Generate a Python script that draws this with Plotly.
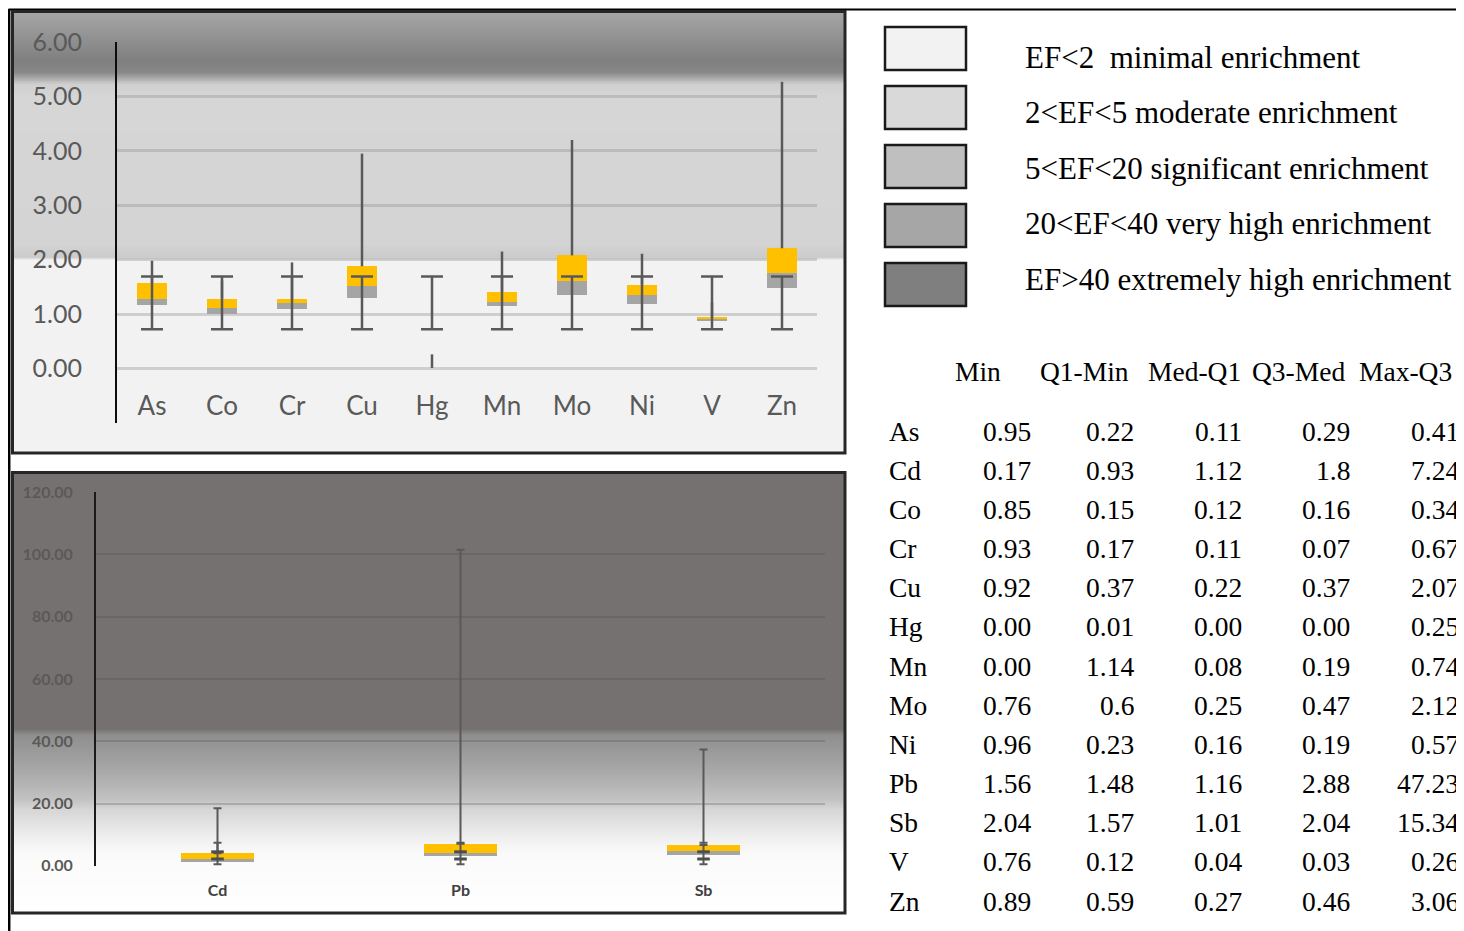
import numpy as np
import plotly.graph_objects as go

# page is shown with an 8 px body margin; the figure is laid out in reference-pixel
# coordinates and shifted by that margin
PAGE_W, PAGE_H = 1464, 931
OFF = 8
W, H = PAGE_W - OFF, PAGE_H - OFF

# ---------------- data (as printed in the table) ----------------
elements   = ["As", "Cd", "Co", "Cr", "Cu", "Hg", "Mn", "Mo", "Ni", "Pb", "Sb", "V", "Zn"]
col_min    = ["0.95", "0.17", "0.85", "0.93", "0.92", "0.00", "0.00", "0.76", "0.96", "1.56", "2.04", "0.76", "0.89"]
col_q1_min = ["0.22", "0.93", "0.15", "0.17", "0.37", "0.01", "1.14", "0.6", "0.23", "1.48", "1.57", "0.12", "0.59"]
col_med_q1 = ["0.11", "1.12", "0.12", "0.11", "0.22", "0.00", "0.08", "0.25", "0.16", "1.16", "1.01", "0.04", "0.27"]
col_q3_med = ["0.29", "1.8", "0.16", "0.07", "0.37", "0.00", "0.19", "0.47", "0.19", "2.88", "2.04", "0.03", "0.46"]
col_max_q3 = ["0.41", "7.24", "0.34", "0.67", "2.07", "0.25", "0.74", "2.12", "0.57", "47.23", "15.34", "0.26", "3.06"]
table_headers = ["Min", "Q1-Min", "Med-Q1", "Q3-Med", "Max-Q3"]
table_columns = [col_min, col_q1_min, col_med_q1, col_q3_med, col_max_q3]

top_elements = ["As", "Co", "Cr", "Cu", "Hg", "Mn", "Mo", "Ni", "V", "Zn"]
bottom_elements = ["Cd", "Pb", "Sb"]

# values
top_fixed_whisker = (0.72, 1.69)          # constant error bar (low cap, high cap)
bottom_whisker_top = [18.5, 101.5, 37.4]  # top of upper whiskers, lower chart
bottom_fixed_whisker = (0.5, 7.4)
bottom_mid_caps = [2.2, 4.5]

top_yticks = [-1, 0, 1, 2, 3, 4, 5, 6]
bottom_yticks = [0, 20, 40, 60, 80, 100, 120]

legend_labels = [
    "EF&lt;2&nbsp; minimal enrichment",
    "2&lt;EF&lt;5 moderate enrichment",
    "5&lt;EF&lt;20 significant enrichment",
    "20&lt;EF&lt;40 very high enrichment",
    "EF&gt;40 extremely high enrichment",
]
legend_colors = ["#f2f2f2", "#d9d9d9", "#bfbfbf", "#a6a6a6", "#7f7f7f"]

# ---------------- styles / geometry (reference pixels) ----------------
YELLOW = "#ffc000"
GRAY = "#a5a5a5"
WHISK = "#595959"
SERIF = "Liberation Serif"
SANS = "Lato"

TOP_FRAME = (12, 845, 12, 453)       # x0, x1, y0, y1
TOP_PLOT = (117, 817, 42, 423)
TOP_RANGE = (-1, 6)
BOT_FRAME = (12, 845, 473, 913)
BOT_PLOT = (96, 825, 492, 866)
BOT_RANGE = (0, 120)


def px_x(p):
    return (p - OFF) / W


def px_y(p):
    return 1 - (p - OFF) / H


def frame_range(frame, plot, rng):
    scale = (plot[3] - plot[2]) / (rng[1] - rng[0])
    lo = rng[0] - (frame[3] - plot[3]) / scale
    hi = rng[1] + (plot[2] - frame[2]) / scale
    return lo, hi


top_lo, top_hi = frame_range(TOP_FRAME, TOP_PLOT, TOP_RANGE)
bot_lo, bot_hi = frame_range(BOT_FRAME, BOT_PLOT, BOT_RANGE)

top_bg_stops = [(top_hi, "#a6a6a6"), (5.65, "#7f7f7f"), (5.45, "#878787"), (5.22, "#cfcfcf"),
                (5.0, "#d6d6d6"), (2.3, "#d4d4d4"), (2.05, "#cbcbcb"), (2.0, "#f2f2f2"),
                (top_lo, "#f2f2f2")]
bot_bg_stops = [(bot_hi, "#767171"), (43.8, "#767171"), (41.8, "#8f8f8f"), (30, "#a9a9a9"),
                (21, "#c3c3c3"), (18, "#d6d6d6"), (10, "#ececec"), (4, "#fafafa"),
                (bot_lo, "#ffffff")]


def bg_heatmap(stops, lo, hi, xa, ya):
    s = sorted(stops, key=lambda t: t[0])
    cs = [[(v - lo) / (hi - lo), c] for v, c in s]
    cs[0][0] = 0.0
    cs[-1][0] = 1.0
    yy = np.linspace(lo, hi, 900)
    z = np.column_stack([yy, yy])
    return go.Heatmap(x=[0, 1], y=yy, z=z, colorscale=cs, zmin=lo, zmax=hi, showscale=False,
                      hoverinfo="skip", xaxis=xa, yaxis=ya, zsmooth=False)


def rows_for(names):
    idx = [elements.index(n) for n in names]
    return [np.array([float(c[i]) for i in idx]) for c in table_columns]


fig = go.Figure()
fig.add_trace(bg_heatmap(top_bg_stops, top_lo, top_hi, "x", "y"))
fig.add_trace(bg_heatmap(bot_bg_stops, bot_lo, bot_hi, "x2", "y2"))


def add_boxes(names, xa, ya, width):
    mn, q1m, mdq, q3m, mxq = rows_for(names)
    for vals, color in [(mn, "rgba(0,0,0,0)"), (q1m, "rgba(0,0,0,0)"), (mdq, GRAY), (q3m, YELLOW)]:
        fig.add_trace(go.Bar(x=names, y=vals, width=width,
                             marker=dict(color=color, line=dict(width=0)),
                             xaxis=xa, yaxis=ya, showlegend=False, hoverinfo="skip"))
    q3 = mn + q1m + mdq + q3m
    return q3, mxq


# top chart
q3_top, mxq_top = add_boxes(top_elements, "x3", "y3", 0.43)
n_top = len(top_elements)
fig.add_trace(go.Scatter(
    x=top_elements, y=q3_top, mode="markers", marker=dict(size=1, color="rgba(0,0,0,0)"),
    error_y=dict(type="data", symmetric=False, array=mxq_top, arrayminus=[0] * n_top,
                 color=WHISK, thickness=2.5, width=0),
    xaxis="x3", yaxis="y3", showlegend=False, hoverinfo="skip"))
fig.add_trace(go.Scatter(
    x=top_elements, y=[top_fixed_whisker[0]] * n_top, mode="markers",
    marker=dict(size=1, color="rgba(0,0,0,0)"),
    error_y=dict(type="data", symmetric=False,
                 array=[top_fixed_whisker[1] - top_fixed_whisker[0]] * n_top,
                 arrayminus=[0] * n_top, color=WHISK, thickness=2.5, width=11),
    xaxis="x3", yaxis="y3", showlegend=False, hoverinfo="skip"))

# bottom chart
q3_bot, mxq_bot = add_boxes(bottom_elements, "x4", "y4", 0.3)
n_bot = len(bottom_elements)
fig.add_trace(go.Scatter(
    x=bottom_elements, y=q3_bot, mode="markers", marker=dict(size=1, color="rgba(0,0,0,0)"),
    error_y=dict(type="data", symmetric=False, array=np.array(bottom_whisker_top) - q3_bot,
                 arrayminus=[0] * n_bot, color=WHISK, thickness=2, width=4),
    xaxis="x4", yaxis="y4", showlegend=False, hoverinfo="skip"))
fig.add_trace(go.Scatter(
    x=bottom_elements, y=[bottom_fixed_whisker[0]] * n_bot, mode="markers",
    marker=dict(size=1, color="rgba(0,0,0,0)"),
    error_y=dict(type="data", symmetric=False,
                 array=[bottom_fixed_whisker[1] - bottom_fixed_whisker[0]] * n_bot,
                 arrayminus=[0] * n_bot, color=WHISK, thickness=2, width=4),
    xaxis="x4", yaxis="y4", showlegend=False, hoverinfo="skip"))
for cap in bottom_mid_caps:
    fig.add_trace(go.Scatter(
        x=bottom_elements, y=[cap] * n_bot, mode="markers",
        marker=dict(symbol="line-ew", size=9, line=dict(width=3, color="#4d4d4d")),
        xaxis="x4", yaxis="y4", showlegend=False, hoverinfo="skip"))

# ---------------- shapes ----------------
shapes = []
# outer lines
shapes.append(dict(type="line", xref="paper", yref="paper", x0=px_x(8.5), x1=1, y0=px_y(9.5), y1=px_y(9.5),
                   line=dict(color="black", width=2), layer="above"))
shapes.append(dict(type="line", xref="paper", yref="paper", x0=px_x(9.2), x1=px_x(9.2), y0=px_y(9), y1=0,
                   line=dict(color="black", width=2.5), layer="above"))
for fr in (TOP_FRAME, BOT_FRAME):
    shapes.append(dict(type="rect", xref="paper", yref="paper", x0=px_x(fr[0] + 0.5), x1=px_x(fr[1]),
                       y0=px_y(fr[3]), y1=px_y(fr[2] - 0.5),
                       line=dict(color="#262626", width=3), fillcolor="rgba(0,0,0,0)", layer="above"))
# legend boxes
for i, col in enumerate(legend_colors):
    top = 27 + 59 * i
    shapes.append(dict(type="rect", xref="paper", yref="paper", x0=px_x(885), x1=px_x(966),
                       y0=px_y(top + 43), y1=px_y(top),
                       line=dict(color="#1a1a1a", width=2.5), fillcolor=col, layer="above"))

# ---------------- annotations ----------------
ann = []
for i, lab in enumerate(legend_labels):
    ann.append(dict(xref="paper", yref="paper", x=px_x(1023), y=px_y(57 + 55.5 * i), text=lab,
                    showarrow=False, xanchor="left", yanchor="middle",
                    font=dict(family=SERIF, size=31, color="black")))

header_cx = [978, 1084, 1194, 1298, 1405]
value_rx = [1033, 1136, 1244, 1352, 1461]
for h, cx in zip(table_headers, header_cx):
    ann.append(dict(xref="paper", yref="paper", x=px_x(cx), y=px_y(371), text=h, showarrow=False,
                    xanchor="center", yanchor="middle", font=dict(family=SERIF, size=27.5, color="black")))
for r, name in enumerate(elements):
    yc = px_y(431 + 39.17 * r)
    ann.append(dict(xref="paper", yref="paper", x=px_x(887), y=yc, text=name, showarrow=False,
                    xanchor="left", yanchor="middle", font=dict(family=SERIF, size=27.5, color="black")))
    for col, rx in zip(table_columns, value_rx):
        ann.append(dict(xref="paper", yref="paper", x=px_x(rx), y=yc, text=col[r], showarrow=False,
                        xanchor="right", yanchor="middle",
                        font=dict(family=SERIF, size=27.5, color="black")))

fig.update_layout(
    width=W, height=H, margin=dict(l=0, r=0, t=0, b=0, autoexpand=False),
    paper_bgcolor="white", plot_bgcolor="rgba(0,0,0,0)",
    barmode="stack", bargap=0, showlegend=False,
    font=dict(family=SANS),
    shapes=shapes, annotations=ann,
    xaxis=dict(domain=[px_x(TOP_FRAME[0]), px_x(TOP_FRAME[1])], range=[0, 1], visible=False,
               anchor="y", automargin=False),
    yaxis=dict(domain=[px_y(TOP_FRAME[3]), px_y(TOP_FRAME[2])], range=[top_lo, top_hi], visible=False,
               anchor="x", automargin=False),
    xaxis2=dict(domain=[px_x(BOT_FRAME[0]), px_x(BOT_FRAME[1])], range=[0, 1], visible=False,
                anchor="y2", automargin=False),
    yaxis2=dict(domain=[px_y(BOT_FRAME[3]), px_y(BOT_FRAME[2])], range=[bot_lo, bot_hi], visible=False,
                anchor="x2", automargin=False),
    xaxis3=dict(domain=[px_x(TOP_PLOT[0]), px_x(TOP_PLOT[1])], range=[-0.5, len(top_elements) - 0.5],
                anchor="y3", automargin=False,
                type="category", categoryorder="array", categoryarray=top_elements,
                showgrid=False, showline=False, zeroline=False, ticks="",
                ticklabelposition="inside",
                tickfont=dict(family=SANS, size=26, color="#595959")),
    yaxis3=dict(domain=[px_y(TOP_PLOT[3]), px_y(TOP_PLOT[2])],
                range=[TOP_RANGE[0] - 0.002, TOP_RANGE[1] + 0.002],
                anchor="x3", automargin=False,
                tickvals=top_yticks, ticktext=[f"{v:.2f}" for v in top_yticks],
                showgrid=True, gridcolor="rgba(140,140,140,0.35)", gridwidth=3,
                zeroline=False, showline=True, linecolor="#0d0d0d", linewidth=2,
                ticks="", ticklabelstandoff=28,
                tickfont=dict(family=SANS, size=25, color="#595959")),
    xaxis4=dict(domain=[px_x(BOT_PLOT[0]), px_x(BOT_PLOT[1])], range=[-0.5, len(bottom_elements) - 0.5],
                anchor="y4", automargin=False,
                type="category", categoryorder="array", categoryarray=bottom_elements,
                showgrid=False, showline=False, zeroline=False, ticks="", ticklabelstandoff=13,
                tickfont=dict(family=SANS, size=16, color="#404040", weight="bold")),
    yaxis4=dict(domain=[px_y(BOT_PLOT[3]), px_y(BOT_PLOT[2])],
                range=[BOT_RANGE[0] - 0.05, BOT_RANGE[1] + 0.05],
                anchor="x4", automargin=False,
                tickvals=bottom_yticks, ticktext=[f"{v:.2f}" for v in bottom_yticks],
                showgrid=True, gridcolor="rgba(70,70,70,0.25)", gridwidth=1.5,
                zeroline=False, showline=True, linecolor="#1a1a1a", linewidth=2,
                ticks="", ticklabelstandoff=18,
                tickfont=dict(family=SANS, size=16, color="#595959", weight="bold")),
)

fig.write_html("out.html")
